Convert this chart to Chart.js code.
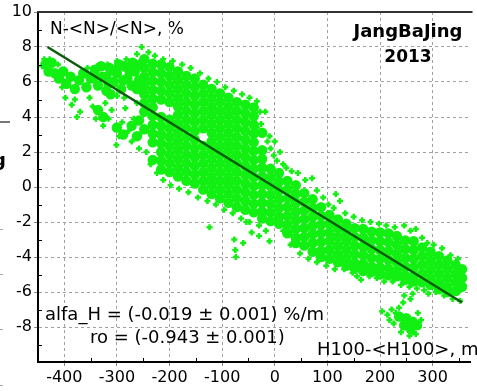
<!DOCTYPE html>
<html><head><meta charset="utf-8">
<script src="https://cdn.jsdelivr.net/npm/chart.js@4/dist/chart.umd.min.js"></script>
<style>html,body{margin:0;padding:0;background:#fff;overflow:hidden}</style>
</head><body><canvas id="c" width="477" height="391"></canvas>
<script>
// ---- data ----
const xTicks = [-400,-300,-200,-100,0,100,200,300];
const yTicks = [-8,-6,-4,-2,0,2,4,6,8,10];
const xMinorTicks = [-450,-350,-250,-150,-50,50,150,250,350];
const yMinorTicks = [-9,-7,-5,-3,-1,1,3,5,7,9];
const fitLine = [[-432,8.0],[356,-6.6]];
const denseCloud = [
[-436,7.0],[-430,6.6],[-424,7.1],[-418,6.5],[-410,6.2],[-402,6.6],[-396,5.9],[-388,6.3],[-380,5.6],[-372,6.1],
[-364,6.5],[-358,5.7],[-350,6.2],[-342,6.7],[-336,5.8],[-328,6.3],[-320,5.5],[-314,6.8],[-306,6.0],[-300,6.5],
[-292,5.6],[-286,6.9],[-280,6.2],[-272,5.8],[-266,6.6],[-258,6.1],[-256,7.0],[-270,7.1],[-296,7.0],[-312,5.3],
[-320,6.3],[-304,6.6],[-288,6.1],[-276,6.6],[-262,5.6],[-344,6.3],[-330,6.9],[-316,5.9],
[-336,4.4],[-326,4.0],[-300,3.4],[-288,3.0],[-272,3.5],[-258,3.8],[-262,2.9],
[-248,7.3],[-248,6.8],[-248,6.3],[-248,5.8],[-248,5.3],[-248,4.8],[-248,4.3],[-248,3.3],
[-232,7.05],[-232,6.55],[-232,6.05],[-232,5.55],[-232,5.05],[-232,4.55],[-232,4.05],[-232,3.55],[-232,3.05],[-232,2.55],[-232,1.55],
[-216,7.0],[-216,6.5],[-216,6.0],[-216,5.5],[-216,5.0],[-216,4.0],[-216,3.5],[-216,3.0],[-216,2.5],[-216,2.0],[-216,1.5],[-216,1.0],
[-200,6.85],[-200,6.35],[-200,5.85],[-200,5.35],[-200,4.85],[-200,3.85],[-200,3.35],[-200,2.85],[-200,2.35],[-200,1.85],[-200,1.35],[-200,0.85],
[-184,6.6],[-184,6.1],[-184,5.6],[-184,5.1],[-184,4.6],[-184,4.1],[-184,3.6],[-184,3.1],[-184,2.6],[-184,2.1],[-184,1.6],[-184,1.1],[-184,0.6],
[-168,6.35],[-168,5.85],[-168,5.35],[-168,4.85],[-168,4.35],[-168,3.85],[-168,3.35],[-168,2.85],[-168,2.35],[-168,1.85],[-168,1.35],[-168,0.85],[-168,0.35],
[-152,6.2],[-152,5.7],[-152,5.2],[-152,4.7],[-152,4.2],[-152,3.7],[-152,3.2],[-152,2.7],[-152,2.2],[-152,1.7],[-152,1.2],[-152,0.7],[-152,0.2],
[-136,5.85],[-136,5.35],[-136,4.85],[-136,4.35],[-136,3.85],[-136,3.35],[-136,2.35],[-136,1.85],[-136,1.35],[-136,0.85],[-136,0.35],[-136,-0.15],
[-120,5.6],[-120,5.1],[-120,4.6],[-120,4.1],[-120,3.6],[-120,3.1],[-120,2.6],[-120,2.1],[-120,1.6],[-120,1.1],[-120,0.6],[-120,0.1],[-120,-0.4],
[-104,5.35],[-104,4.85],[-104,4.35],[-104,3.85],[-104,3.35],[-104,2.85],[-104,2.35],[-104,1.85],[-104,1.35],[-104,0.85],[-104,0.35],[-104,-0.15],[-104,-0.65],
[-88,5.1],[-88,4.6],[-88,4.1],[-88,3.6],[-88,3.1],[-88,2.6],[-88,2.1],[-88,1.6],[-88,1.1],[-88,0.6],[-88,0.1],[-88,-0.4],[-88,-0.9],
[-72,4.85],[-72,4.35],[-72,3.85],[-72,3.35],[-72,2.85],[-72,2.35],[-72,1.85],[-72,1.35],[-72,0.85],[-72,0.35],[-72,-0.15],[-72,-0.65],[-72,-1.15],
[-56,4.7],[-56,4.2],[-56,3.7],[-56,3.2],[-56,2.7],[-56,2.2],[-56,1.7],[-56,1.2],[-56,0.7],[-56,0.2],[-56,-0.3],[-56,-0.8],[-56,-1.3],
[-40,4.55],[-40,4.05],[-40,3.55],[-40,3.05],[-40,2.55],[-40,2.05],[-40,1.55],[-40,1.05],[-40,0.55],[-40,0.05],[-40,-0.45],[-40,-0.95],[-40,-1.45],
[-24,3.1],[-24,2.1],[-24,1.6],[-24,1.1],[-24,0.6],[-24,0.1],[-24,-0.4],[-24,-0.9],[-24,-1.4],[-24,-1.8],
[-8,1.05],[-8,0.55],[-8,0.05],[-8,-0.45],[-8,-0.95],[-8,-1.45],[-8,-1.95],
[8,0.8],[8,0.3],[8,-0.2],[8,-0.7],[8,-1.2],[8,-1.7],[8,-2.1],
[24,0.35],[24,-0.15],[24,-0.65],[24,-1.15],[24,-1.65],[24,-2.15],[24,-2.65],
[40,0.1],[40,-0.4],[40,-0.9],[40,-1.4],[40,-1.9],[40,-2.4],[40,-2.9],[40,-3.2],
[56,-0.35],[56,-0.85],[56,-1.35],[56,-1.85],[56,-2.35],[56,-2.85],[56,-3.35],
[72,-0.7],[72,-1.2],[72,-1.7],[72,-2.2],[72,-2.7],[72,-3.2],[72,-3.7],
[88,-1.15],[88,-1.65],[88,-2.15],[88,-2.65],[88,-3.15],[88,-3.65],[88,-4.0],
[104,-1.6],[104,-2.1],[104,-2.6],[104,-3.1],[104,-3.6],[104,-4.1],
[120,-1.85],[120,-2.35],[120,-2.85],[120,-3.35],[120,-3.85],[120,-4.3],
[136,-2.1],[136,-2.6],[136,-3.1],[136,-3.6],[136,-4.1],[136,-4.5],
[152,-2.35],[152,-2.85],[152,-3.35],[152,-3.85],[152,-4.35],[152,-4.65],
[168,-2.4],[168,-2.9],[168,-3.4],[168,-3.9],[168,-4.4],[168,-4.8],
[184,-2.55],[184,-3.05],[184,-3.55],[184,-4.05],[184,-4.55],[184,-4.85],
[200,-2.6],[200,-3.1],[200,-3.6],[200,-4.1],[200,-4.6],[200,-5.0],
[216,-2.65],[216,-3.15],[216,-3.65],[216,-4.15],[216,-4.65],[216,-5.05],
[232,-2.8],[232,-3.3],[232,-3.8],[232,-4.3],[232,-4.8],[232,-5.1],
[248,-3.05],[248,-3.55],[248,-4.05],[248,-4.55],[248,-5.05],[248,-5.3],
[264,-3.1],[264,-3.6],[264,-4.1],[264,-4.6],[264,-5.1],[264,-5.4],
[280,-3.45],[280,-3.95],[280,-4.45],[280,-4.95],[280,-5.45],
[296,-3.7],[296,-4.2],[296,-4.7],[296,-5.2],[296,-5.6],
[312,-3.95],[312,-4.45],[312,-4.95],[312,-5.45],[312,-5.85],
[328,-4.2],[328,-4.7],[328,-5.2],[328,-5.7],[328,-6.0],
[344,-4.45],[344,-4.95],[344,-5.45],[344,-5.95],
[356,-4.7],[356,-5.2],[356,-5.7],
[236,-7.4],[250,-7.5],[262,-7.7],[246,-7.9],[258,-8.1],[270,-7.9]
];
const sparseCloud = [
[-253,8.0],[-262,7.6],[-240,7.7],[-282,7.3],[-300,7.2],[-318,7.0],[-338,6.9],[-356,6.8],[-228,7.5],[-212,7.3],[-194,7.2],[-176,7.0],[-160,6.8],[-142,6.5],[-126,6.2],[-110,6.0],[-94,5.7],[-78,5.5],[-62,5.3],[-48,5.1],[-34,4.9],[-28,4.3],
[-442,6.9],[-438,7.3],[-428,7.3],[-414,6.1],[-404,5.7],[-398,5.1],[-386,4.7],[-376,4.0],[-370,4.3],[-380,5.0],[-412,7.0],[-400,6.6],
[-352,5.1],[-346,4.6],[-340,3.9],[-334,4.3],[-326,3.5],[-322,4.8],[-316,3.9],[-310,4.4],[-304,3.3],[-301,2.4],[-296,2.9],[-290,3.7],[-284,4.5],[-278,3.2],[-272,2.6],[-268,3.9],[-262,4.8],[-258,2.2],[-254,3.1],[-286,5.1],[-300,5.2],
[-244,2.0],[-236,1.3],[-224,0.8],[-212,0.4],[-198,0.1],[-182,-0.1],[-164,-0.3],[-146,-0.6],[-128,-0.8],[-112,-1.0],[-96,-1.3],[-80,-1.5],[-64,-1.8],[-48,-2.0],[-30,-2.2],
[-124,-2.3],[-77,-3.0],[-75,-3.6],[-74,-4.0],[-54,-2.0],[-44,-2.6],[-30,-2.8],[-17,-2.5],[-10,-3.1],[-60,-3.2],
[-40,3.8],[-34,3.4],[-26,3.6],[-20,3.1],[-14,2.6],[-8,2.2],[-2,1.8],[4,1.5],[10,2.0],[16,1.3],[22,1.1],[-18,4.3],[-10,2.9],[0,2.6],
[32,0.9],[44,0.8],[58,0.4],[71,0.5],[80,-0.2],[92,-0.6],[102,-1.0],[116,-0.4],[124,-0.8],[112,-1.2],[134,-1.5],[150,-1.7],[166,-1.9],[182,-2.0],[198,-2.1],[212,-2.2],[228,-2.3],[246,-2.2],[258,-2.5],[268,-2.4],[280,-2.9],[290,-3.2],[302,-3.3],[318,-3.5],[334,-3.9],[348,-4.1],[360,-4.7],
[16,-2.5],[30,-3.3],[48,-3.8],[64,-4.1],[80,-4.3],[98,-4.5],[114,-4.7],[132,-4.7],[148,-4.9],[156,-5.1],[164,-5.3],[180,-5.1],[194,-5.2],[208,-5.4],[224,-5.4],[240,-5.6],[256,-5.7],[270,-5.8],[284,-5.9],[292,-6.1],[306,-6.0],[322,-6.2],[338,-6.4],[352,-6.5],[246,-6.2],[258,-6.4],[262,-6.1],
[204,-7.1],[214,-7.3],[222,-7.0],[236,-6.9],[244,-6.6],[272,-7.2],[278,-7.6],[268,-8.4],[256,-8.5],[240,-8.3],[226,-7.8],[218,-7.6],[230,-7.2],[262,-8.3],[274,-8.0]
];
const yLabel = 'N-<N>/<N>, %';
const xLabel = 'H100-<H100>, m';
const stationLines = ['JangBaJing','2013'];
const statLines = ['alfa_H = (-0.019 \u00b1 0.001) %/m','ro = (-0.943 \u00b1 0.001)'];

// ---- styles ----
const GREEN = '#12ef12';
const FONT = 'DejaVu Sans';
const toPts = a => a.map(p => ({x:p[0], y:p[1]}));

const decor = {
  id:'decor',
  afterDatasetsDraw(chart){
    const {ctx, chartArea:a, scales:{x:xs, y:ys}} = chart;
    ctx.save();
    ctx.strokeStyle = '#000'; ctx.lineWidth = 1;
    yMinorTicks.forEach(v => { const p = Math.round(ys.getPixelForValue(v)) + 0.5;
      ctx.beginPath(); ctx.moveTo(a.left, p); ctx.lineTo(a.left + 4, p); ctx.stroke(); });
    xMinorTicks.forEach(v => { const p = Math.round(xs.getPixelForValue(v)) + 0.5;
      ctx.beginPath(); ctx.moveTo(p, a.bottom); ctx.lineTo(p, a.bottom - 4); ctx.stroke(); });
    ctx.strokeStyle = '#333'; ctx.lineWidth = 2;
    ctx.beginPath(); ctx.moveTo(a.left - 1, a.top); ctx.lineTo(a.right + 2, a.top); ctx.stroke();
    ctx.restore();
  },
  afterDraw(chart){
    const ctx = chart.ctx;
    ctx.save();
    ctx.fillStyle = '#000';
    ctx.textBaseline = 'alphabetic';
    ctx.textAlign = 'left';
    ctx.font = '17px "' + FONT + '"';
    ctx.fillText(yLabel, 50, 34);
    ctx.font = '18px "' + FONT + '"';
    ctx.fillText(statLines[0], 45, 320);
    ctx.fillText(statLines[1], 90, 343);
    ctx.fillText(xLabel, 317, 355);
    ctx.textAlign = 'center';
    ctx.font = 'bold 18px "' + FONT + '"';
    ctx.fillText(stationLines[0], 408, 37);
    ctx.font = 'bold 17px "' + FONT + '"';
    ctx.fillText(stationLines[1], 408, 62);
    ctx.textAlign = 'right';
    ctx.font = 'bold 18px "' + FONT + '"';
    ctx.fillText('Jing', 6, 166);
    ctx.fillStyle = '#777';
    ctx.fillRect(0, 121, 10, 2);
    ctx.fillStyle = '#aaa';
    [229, 274, 329, 385].forEach(y => ctx.fillRect(0, y, 3, 1));
    ctx.restore();
  }
};

new Chart(document.getElementById('c'), {
  type: 'scatter',
  data: { datasets: [
    { data: toPts(fitLine), showLine: true, borderColor: '#0b5c0b', borderWidth: 2.5, pointRadius: 0, fill: false },
    { data: toPts(sparseCloud), pointStyle: 'cross', pointRadius: 3, borderWidth: 2.5, borderColor: GREEN, backgroundColor: GREEN },
    { data: toPts(denseCloud), pointStyle: 'circle', pointRadius: 5.2, borderWidth: 0, backgroundColor: GREEN, borderColor: GREEN }
  ]},
  options: {
    responsive: false, animation: false, devicePixelRatio: 1, events: [],
    layout: { padding: { top: 12, left: 0, right: 0, bottom: 0 } },
    plugins: { legend: { display: false }, tooltip: { enabled: false } },
    scales: {
      x: {
        type: 'linear', min: -450, max: 372,
        afterBuildTicks: s => { s.ticks = xTicks.map(v => ({value: v})); },
        afterFit: s => { s.height = 29; },
        grid: { color: '#a0a0a0', lineWidth: 1, tickLength: 4, tickColor: '#888' },
        border: { display: true, color: '#000', width: 2, dash: [3,3] },
        ticks: { font: { family: FONT, size: 16 }, color: '#000', padding: 2, maxRotation: 0, autoSkip: false }
      },
      y: {
        type: 'linear', min: -10, max: 10,
        afterBuildTicks: s => { s.ticks = yTicks.map(v => ({value: v})); },
        afterFit: s => { s.width = 38; },
        grid: { color: '#a0a0a0', lineWidth: 1, tickLength: 4, tickColor: '#888' },
        border: { display: true, color: '#000', width: 2, dash: [3,3] },
        ticks: { font: { family: FONT, size: 16 }, color: '#000', padding: 2, autoSkip: false }
      }
    }
  },
  plugins: [decor]
});
</script>
</body></html>
